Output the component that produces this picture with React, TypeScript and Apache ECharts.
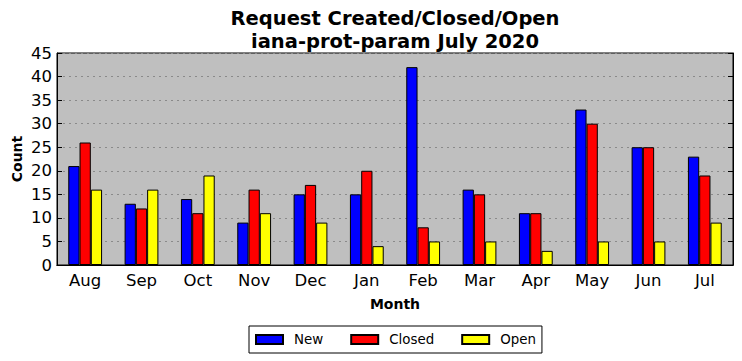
import React, { useEffect, useRef } from "react";
import * as echarts from "echarts";

const months = ["Aug", "Sep", "Oct", "Nov", "Dec", "Jan", "Feb", "Mar", "Apr", "May", "Jun", "Jul"];
const newCounts = [21, 13, 14, 9, 15, 15, 42, 16, 11, 33, 25, 23];
const closedCounts = [26, 12, 11, 16, 17, 20, 8, 15, 11, 30, 25, 19];
const openCounts = [16, 16, 19, 11, 9, 4, 5, 5, 3, 5, 5, 9];
const titleLines = ["Request Created/Closed/Open", "iana-prot-param July 2020"];

const FONT = "DejaVu Sans";

export default function App() {
  const ref = useRef<HTMLDivElement>(null);
  useEffect(() => {
    if (!ref.current) return;
    const chart = echarts.init(ref.current, null, { renderer: "svg" });
    const barStyle = (color: string) => ({ color, borderColor: "#000", borderWidth: 1 });
    chart.setOption({
      animation: false,
      backgroundColor: "#fff",
      textStyle: { fontFamily: FONT },
      graphic: [
        {
          type: "text",
          x: 395,
          y: 7,
          style: {
            text: titleLines.join("\n"),
            font: `bold 19.5px '${FONT}'`,
            fill: "#000",
            align: "center",
            lineHeight: 23,
          },
        },
      ],
      grid: {
        left: 57,
        right: 9,
        top: 53,
        bottom: 96,
        outerBoundsMode: "none",
        containLabel: false,
        show: true,
        backgroundColor: "#bfbfbf",
        borderColor: "#000",
        borderWidth: 1,
      },
      legend: {
        left: 249,
        top: 326,
        borderColor: "#000",
        borderWidth: 1,
        padding: [7, 6, 7, 6],
        itemWidth: 27,
        itemHeight: 9,
        itemGap: 27,
        icon: "rect",
        textStyle: { fontFamily: FONT, fontSize: 13.4, color: "#000", padding: [0, 0, 0, 6] },
        data: ["New", "Closed", "Open"],
      },
      xAxis: [
        {
          type: "category",
          data: months,
          name: "Month",
          nameLocation: "middle",
          nameGap: 32,
          nameTextStyle: { fontFamily: FONT, fontWeight: "bold", fontSize: 14, color: "#000" },
          axisLine: { lineStyle: { color: "#000" } },
          axisTick: { inside: true, alignWithLabel: true, length: 5, lineStyle: { color: "#000" } },
          axisLabel: { fontFamily: FONT, fontSize: 16.5, color: "#000", margin: 7 },
        },
        {
          type: "category",
          data: months,
          position: "top",
          axisLine: { lineStyle: { color: "#000" } },
          axisTick: { inside: true, alignWithLabel: true, length: 5, lineStyle: { color: "#000" } },
          axisLabel: { show: false },
        },
      ],
      yAxis: [
        {
          type: "value",
          min: 0,
          max: 45,
          interval: 5,
          name: "Count",
          nameLocation: "middle",
          nameGap: 33,
          nameMoveOverlap: false,
          nameTextStyle: { fontFamily: FONT, fontWeight: "bold", fontSize: 14, color: "#000" },
          axisLine: { show: true, lineStyle: { color: "#000" } },
          axisTick: { show: true, inside: true, length: 5, lineStyle: { color: "#000" } },
          axisLabel: { fontFamily: FONT, fontSize: 16.5, color: "#000", margin: 5 },
          splitLine: { show: true, lineStyle: { color: "#8a8a8a", type: [2, 4], width: 1 } },
        },
        {
          type: "value",
          min: 0,
          max: 45,
          interval: 5,
          position: "right",
          axisLine: { show: true, lineStyle: { color: "#000" } },
          axisTick: { show: true, inside: true, length: 5, lineStyle: { color: "#000" } },
          axisLabel: { show: false },
          splitLine: { show: false },
        },
      ],
      series: [
        { name: "New", type: "bar", data: newCounts, barWidth: "20%", barGap: "0%", itemStyle: barStyle("#0000ff") },
        { name: "Closed", type: "bar", data: closedCounts, barWidth: "20%", barGap: "0%", itemStyle: barStyle("#ff0000") },
        { name: "Open", type: "bar", data: openCounts, barWidth: "20%", barGap: "0%", itemStyle: barStyle("#ffff00") },
      ],
    });
    return () => chart.dispose();
  }, []);
  return <div ref={ref} style={{ position: "fixed", left: 0, top: 0, width: 742, height: 361 }} />;
}
